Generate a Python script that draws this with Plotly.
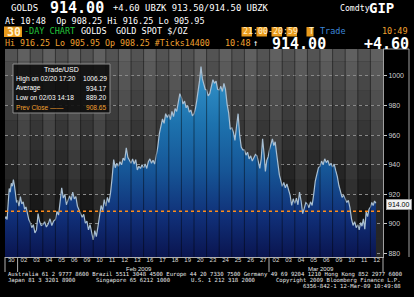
import plotly.graph_objects as go

# ---------------- data ----------------
day_labels = ["30", "02", "03", "04", "05", "06", "09", "10", "11", "12", "13", "16", "17", "18", "19",
              "20", "23", "24", "25", "26", "27", "02", "03", "04", "05", "06", "09", "10", "11", "12"]
month_labels = ["Feb 2009", "Mar 2009"]
month_first_idx = [1, 21]
month_last_idx = [20, 29]

jan30 = [903.5, 905.0, 903.0, 912.0, 924.0, 921.5, 927.5, 925.5, 930.0, 926.0, 919.0, 914.5]
feb02 = [916.0, 912.0, 918.5, 913.5, 915.0, 910.0, 911.5, 906.0, 903.0]
feb03 = [901.0, 897.5, 899.5, 894.0, 896.0, 907.0, 901.5, 899.0]
feb04 = [899.5, 901.5, 898.0, 900.0, 903.5, 899.0, 902.0]
feb05 = [903.0, 908.5, 906.0, 915.0, 924.5, 917.5, 920.0, 913.0]
feb06 = [915.5, 919.0, 916.0, 921.5, 917.0, 918.5, 912.0, 909.5]
feb09 = [908.0, 904.5, 906.5, 900.5, 902.0, 896.0, 899.5, 894.5]
feb10 = [889.2, 895.5, 891.5, 898.0, 904.0, 912.5, 909.0, 916.5]
feb11 = [912.0, 918.0, 914.5, 921.0, 931.0, 943.5, 938.0, 941.0]
feb12 = [939.0, 942.0, 940.0, 944.5, 943.0, 951.5, 945.0, 942.5]
feb13 = [941.0, 944.0, 940.5, 943.5, 936.5, 939.0, 937.5, 940.0]
feb16 = [938.0, 940.5, 937.5, 942.0, 944.0, 941.0, 943.0, 940.5]
feb17 = [946.0, 952.0, 961.0, 966.5, 971.0, 968.0, 974.5, 972.0]
feb18 = [974.0, 970.5, 976.0, 972.5, 978.0, 976.0, 983.0, 988.0]
feb19 = [985.5, 981.0, 983.0, 978.5, 980.0, 975.5, 977.0, 973.0]
feb20 = [974.5, 978.0, 983.5, 989.0, 997.0, 1006.29, 998.0, 994.5, 991.0]
feb23 = [990.5, 986.5, 988.0, 993.5, 997.5, 995.0, 996.5, 991.0]
feb24 = [990.5, 993.0, 989.5, 995.0, 991.0, 981.0, 975.0, 964.0]
feb25 = [965.0, 962.0, 956.5, 966.0, 974.5, 960.0, 952.0, 950.0]
feb26 = [950.0, 946.5, 948.5, 944.0, 946.0, 942.5, 945.0, 947.0]
feb27 = [946.0, 941.0, 937.5, 944.0, 957.5, 948.0, 935.5, 943.0, 945.5]
mar02 = [950.5, 955.0, 957.5, 953.0, 955.5, 947.5, 940.0, 933.0, 929.5]
mar03 = [925.5, 928.0, 924.5, 927.0, 923.0, 919.5, 912.5, 917.0]
mar04 = [914.0, 917.5, 913.0, 921.5, 915.5, 907.0, 910.5, 914.5]
mar05 = [913.5, 911.0, 915.0, 912.5, 920.0, 929.0, 933.5, 938.0]
mar06 = [939.0, 942.5, 940.0, 944.0, 941.5, 943.0, 939.5, 941.0]
mar09 = [938.5, 940.5, 936.0, 932.0, 926.0, 921.5, 918.0, 919.5]
mar10 = [917.0, 914.5, 916.0, 911.0, 903.5, 899.0, 901.5, 897.5]
mar11 = [899.5, 896.0, 901.0, 898.5, 903.5, 896.5, 908.5, 905.0, 910.0]
mar12 = [911.5, 914.5, 912.5, 915.5, 914.0]

sessions = [jan30, feb02, feb03, feb04, feb05, feb06, feb09, feb10, feb11, feb12, feb13, feb16,
            feb17, feb18, feb19, feb20, feb23, feb24, feb25, feb26, feb27, mar02, mar03, mar04,
            mar05, mar06, mar09, mar10, mar11, mar12]
last_session_elapsed = 0.55   # 10:48 into a 21:00-20:59 session

prev_close = 908.65
last_price = "914.00"
y_ticks = [880, 900, 920, 940, 960, 980, 1000]
y_range = [877.7, 1018.2]

# ---------------- build series ----------------
xs, ys = [], []
for i, s in enumerate(sessions):
    span = last_session_elapsed if i == len(sessions) - 1 else 1.0
    n = len(s)
    for j, v in enumerate(s):
        xs.append(i + span * j / n)
        ys.append(v)

W, H = 414, 297
L, R, T, B = 5, 383, 49, 257
PW, PH = R - L, B - T


def px(x):
    return (x - L) / PW


def py(y):
    return (B - y) / PH


fig = go.Figure()
fig.add_trace(go.Scatter(
    x=xs, y=ys, mode="lines", fill="tozeroy",
    line=dict(color="#a9bfd2", width=1.2),
    fillgradient=dict(type="vertical", start=878, stop=1006,
                      colorscale=[[0, "#0a1550"], [0.2, "#102e76"], [0.45, "#165596"],
                                  [0.7, "#1d72ae"], [1, "#3596cc"]]),
    hoverinfo="skip", showlegend=False))

shapes = []
# background horizontal bands (lighter at top)
band_lo = 870
while band_lo < 1020:
    t = (band_lo - 900) / (1015 - 900)
    t = max(0.0, min(1.0, t))
    g = int(20 + t * (86 - 20))
    shapes.append(dict(type="rect", xref="x", yref="y", x0=0, x1=30, y0=band_lo, y1=band_lo + 10,
                       fillcolor=f"rgb({g},{g},{g})", line=dict(width=0), layer="below"))
    band_lo += 10
# alternating day columns
for i in range(len(day_labels)):
    if i % 2 == 1:
        shapes.append(dict(type="rect", xref="x", yref="y", x0=i, x1=i + 1, y0=y_range[0], y1=y_range[1],
                           fillcolor="rgba(255,255,255,0.08)", line=dict(width=0), layer="below"))
# day separators
for i in range(1, len(day_labels)):
    shapes.append(dict(type="line", xref="x", yref="y", x0=i, x1=i, y0=y_range[0], y1=y_range[1],
                       line=dict(color="rgba(0,0,0,0.45)", width=1), layer="above"))
# prev close line
shapes.append(dict(type="line", xref="paper", yref="y", x0=0, x1=1, y0=prev_close, y1=prev_close,
                   line=dict(color="#ff8c1a", width=1.6, dash="dot"), layer="above"))
# legend box
shapes.append(dict(type="rect", xref="paper", yref="paper", x0=px(13), x1=px(110), y0=py(113), y1=py(64),
                   fillcolor="rgba(12,12,12,0.88)", line=dict(color="#8c8c8c", width=1), layer="above"))
# axis box on the right
shapes.append(dict(type="line", xref="paper", yref="paper", x0=px(383), x1=px(409), y0=py(49), y1=py(49),
                   line=dict(color="#a0a0a0", width=1)))
shapes.append(dict(type="line", xref="paper", yref="paper", x0=px(409), x1=px(409), y0=py(49), y1=py(257),
                   line=dict(color="#a0a0a0", width=1)))
# date row separators
for xv in [5, 17.6, 269, 383]:
    shapes.append(dict(type="line", xref="paper", yref="paper", x0=px(xv), x1=px(xv), y0=py(257), y1=py(272),
                       line=dict(color="#b0b0b0", width=1)))
# orange header boxes
for (x0, x1, y0, y1) in [(4, 22, 26.5, 37), (241.5, 252, 27, 36.5), (256.5, 267, 27, 36.5),
                         (271.5, 282, 27, 36.5), (286.5, 297, 27, 36.5), (306.5, 313.5, 27, 36.5)]:
    shapes.append(dict(type="rect", xref="paper", yref="paper", x0=px(x0), x1=px(x1), y0=py(y1), y1=py(y0),
                       fillcolor="#e89a1c", line=dict(width=0), layer="below"))

MONO = "DejaVu Sans Mono"
SANS = "Liberation Sans, Arial"

ann = []


def text(x, y, s, color="#ffffff", size=8.5, family=MONO, anchor="left", bold=False, **kw):
    if bold:
        s = "<b>" + s + "</b>"
    kw.setdefault("borderpad", 0)
    ann.append(dict(xref="paper", yref="paper", x=px(x), y=py(y), text=s, showarrow=False,
                    xanchor=anchor, yanchor="middle", font=dict(color=color, size=size, family=family), **kw))


# header line 1
text(10, 8.5, "GOLDS", size=9)
text(49, 8.5, "914.00", size=15, bold=True)
text(112, 8.5, "+4.60 UBZK 913.50/914.50 UBZK", size=8.9)
text(339, 8.5, "Comdty", size=8.2)
text(368, 8.5, "GIP", size=14, bold=True)
# header line 2
text(4, 21.5, "At 10:48  Op 908.25 Hi 916.25 Lo 905.95", size=8.5)
# header line 3
text(5.5, 31.8, "30", size=11.5, color="#fff2cc", bold=True)
text(23, 31.5, "-DAY CHART", size=8.5, color="#22c33a")
text(80, 31.5, "GOLDS", size=8.5)
text(115, 31.5, "GOLD SPOT $/OZ", size=8.5)
text(242, 31.5, "21:00-20:59", size=8.3, color="#fff0c8")
text(307.5, 31.5, "T", size=8.3, color="#fff0c8")
text(319, 31.5, "Trade", size=8.5, color="#3c86d8")
text(409, 31.5, "10:49", size=8.5, color="#f0a030", anchor="right")
# header line 4
text(4, 42.5, "Hi 916.25 Lo 905.95 Op 908.25 #Ticks14400", size=8.3, color="#f0a030")
text(224, 42.5, "10:48", size=8.5, color="#f0a030")
text(252, 43, "↑", size=9)
text(271, 44.5, "914.00", size=15, bold=True)
text(410, 44.5, "+4.60", size=15, bold=True, anchor="right")

# legend box content
text(61.5, 69, "Trade/USD", size=7, family=SANS, anchor="center")
rows = [("High on 02/20 17:20", "1006.29", "#ffffff"), ("Average", "934.17", "#ffffff"),
        ("Low on 02/03 14:18", "889.20", "#ffffff"), ("Prev Close ——", "908.65", "#f0a030")]
for k, (lab, val, col) in enumerate(rows):
    yy = 78.5 + k * 9.5
    text(14.5, yy, lab, size=6.6, family=SANS, color=col)
    text(108, yy, val, size=6.6, family=SANS, color=col, anchor="right")

# last price tag
text(386, 204, last_price, size=7, family=SANS, color="#000000", bgcolor="#f2f2f2",
     bordercolor="#9a9a9a", borderwidth=1, borderpad=1)

# month labels
for lab, a, b in zip(month_labels, month_first_idx, month_last_idx):
    xm = L + PW * ((a + b + 1) / 2) / 30
    text(xm - 5, 268.5, lab, size=6, family=SANS, color="#e0e0e0", anchor="center")

# footer
text(7, 274.3, "Australia 61 2 9777 8600 Brazil 5511 3048 4500 Europe 44 20 7330 7500 Germany 49 69 9204 1210 Hong Kong 852 2977 6000",
     size=5.6, color="#e8e8e8")
text(7, 280.3, "Japan 81 3 3201 8900", size=5.6, color="#e8e8e8")
text(95, 280.3, "Singapore 65 6212 1000", size=5.6, color="#e8e8e8")
text(190, 280.3, "U.S. 1 212 318 2000", size=5.6, color="#e8e8e8")
text(402, 280.3, "Copyright 2009 Bloomberg Finance L.P.", size=5.6, color="#e8e8e8", anchor="right")
text(402, 286.3, "6356-842-1 12-Mar-09 10:49:08", size=5.6, color="#e8e8e8", anchor="right")

fig.update_layout(
    width=W, height=H,
    margin=dict(l=L, r=W - R, t=T, b=H - B, pad=0),
    paper_bgcolor="#000000", plot_bgcolor="#1c1c1c",
    showlegend=False,
    shapes=shapes, annotations=ann,
    xaxis=dict(range=[0, 30], tickmode="array", tickvals=[i + 0.5 for i in range(30)], ticktext=day_labels,
               showgrid=False, zeroline=False, showline=True, linecolor="#b0b0b0", linewidth=1,
               ticks="", tickfont=dict(size=6, color="#dcdcdc", family=SANS), ticklabelstandoff=-3),
    yaxis=dict(range=y_range, side="right", tickmode="array", tickvals=y_ticks,
               showgrid=True, gridcolor="#8a8a8a", griddash="dot", gridwidth=1, zeroline=False,
               showline=True, linecolor="#a0a0a0", linewidth=1, ticks="outside", ticklen=3,
               tickcolor="#c8c8c8", tickfont=dict(size=7, color="#d0d0d0", family=SANS)),
)

fig.write_html("out.html")
